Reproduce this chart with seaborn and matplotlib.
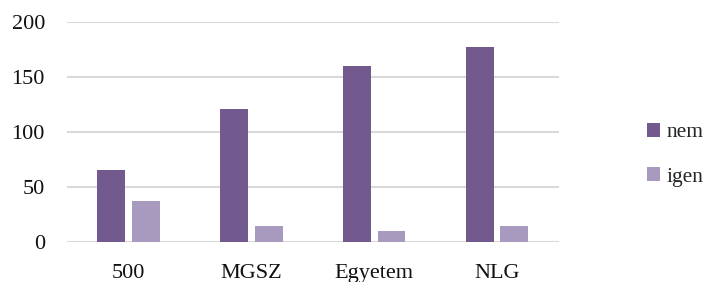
import matplotlib
matplotlib.use("Agg")
import matplotlib.pyplot as plt
import seaborn as sns
import pandas as pd

categories = ["500", "MGSZ", "Egyetem", "NLG"]
nem = [65, 121, 160, 177]
igen = [37, 14, 10, 14]
series = ["nem", "igen"]
colors = ["#725A8E", "#A899BF"]

df = pd.DataFrame({
    "cat": categories * 2,
    "val": nem + igen,
    "series": ["nem"] * len(categories) + ["igen"] * len(categories),
})

sns.set_theme(style="white")
plt.rcParams["font.family"] = "serif"
plt.rcParams["font.serif"] = ["Liberation Serif", "DejaVu Serif"]

fig = plt.figure(figsize=(7.07, 2.82), dpi=100)
ax = fig.add_axes([0.095, 0.1436, 0.695, 0.7786])

sns.barplot(data=df, x="cat", y="val", hue="series", hue_order=series,
            palette=colors, width=0.56, gap=0.19, ax=ax, saturation=1,
            errorbar=None, linewidth=0)

ax.set_ylim(0, 200)
ax.set_xlim(-0.5, len(categories) - 0.5)
ax.set_yticks([0, 50, 100, 150, 200])
ax.yaxis.grid(True, color="#D9D9D9", linewidth=1.5)
ax.set_axisbelow(True)
for s in ax.spines.values():
    s.set_visible(False)
ax.set_xlabel("")
ax.set_ylabel("")
ax.tick_params(axis="y", length=0, pad=16, labelsize=16, colors="#111111")
ax.tick_params(axis="x", length=0, pad=16, labelsize=16, colors="#111111")

ax.legend(loc="center left", bbox_to_anchor=(1.158, 0.395), frameon=False,
          fontsize=15.5, handlelength=0.6, handleheight=0.6, handletextpad=0.3,
          labelspacing=1.15, borderpad=0)

fig.savefig("out.png", dpi=100)
